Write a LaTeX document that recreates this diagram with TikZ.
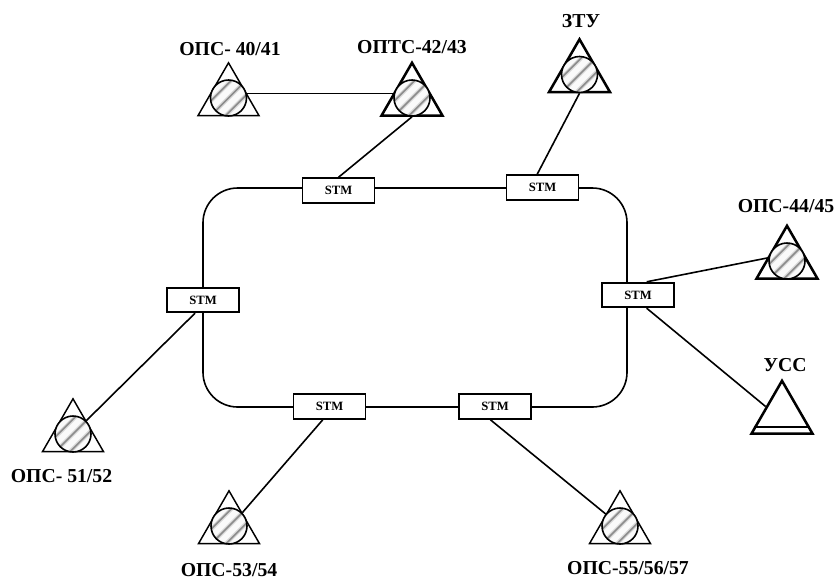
\documentclass[tikz,border=0pt]{standalone}
\usepackage{fontspec}
\setmainfont{Liberation Serif}
\usepackage{tikz}
\usetikzlibrary{shapes.geometric, calc}

\begin{document}
\begin{tikzpicture}[
  x=0.75pt, y=-0.75pt,
  tri/.style={regular polygon, regular polygon sides=3, draw=black, line width=1.1pt, inner sep=0pt,
              minimum size=52.8pt},
  trib/.style={tri, line width=1.9pt},
  disc/.style={circle, draw=black, line width=1.2pt, fill=gray!4, inner sep=0pt, minimum size=27pt,
               path picture={
                 \foreach \off in {-5.5,0,5.5} {
                   \draw[gray!30, line width=3pt]
                     ($(path picture bounding box.center)+(-15pt+\off pt,-15pt-\off pt)$) --
                     ($(path picture bounding box.center)+(15pt+\off pt,15pt-\off pt)$);
                   \draw[gray!90, line width=1.2pt]
                     ($(path picture bounding box.center)+(-15pt+\off pt,-15pt-\off pt)$) --
                     ($(path picture bounding box.center)+(15pt+\off pt,15pt-\off pt)$);
                 }
               }},
  stm/.style={rectangle, draw=black, line width=1.3pt, fill=white, inner sep=0pt,
              minimum width=54pt, minimum height=18.5pt, font=\fontsize{9.5}{10}\selectfont\bfseries},
  lbl/.style={font=\fontsize{14.8}{16}\selectfont\bfseries, inner sep=0pt},
  link/.style={draw=black, line width=1.2pt},
]
\useasboundingbox (0,0) rectangle (838,579);

% Ring
\draw[link, rounded corners=26pt] (203,188) rectangle (627,407);

% STM boxes
\node[stm] (s1) at (338.5,190.5) {STM};
\node[stm] (s2) at (542.5,187.5) {STM};
\node[stm] (s3) at (638,295) {STM};
\node[stm] (s4) at (203,300) {STM};
\node[stm] (s5) at (329.5,406.5) {STM};
\node[stm] (s6) at (495,406.5) {STM};

% Stations
\node[tri] (t40) at (228.5,98) {};
\node[disc] (d40) at (t40) {};
\node[lbl] at (230,49) {ОПС- 40/41};

\node[trib] (t42) at (412,98) {};
\node[disc] (d42) at (t42) {};
\node[lbl] at (412,47) {ОПТС-42/43};

\node[trib] (t58) at (579.5,74.5) {};
\node[disc] (d58) at (t58) {};
\node[lbl] at (581,21) {ЗТУ};

\node[trib] (t44) at (787,261) {};
\node[disc] (d44) at (t44) {};
\node[lbl] at (786,206) {ОПС-44/45};

\node[trib] (t60) at (782,416) {};
\node[lbl] at (785,365) {УСС};

\node[tri] (t51) at (73,434) {};
\node[disc] (d51) at (t51) {};
\node[lbl] at (61.5,476) {ОПС- 51/52};

\node[tri] (t53) at (229,526) {};
\node[disc] (d53) at (t53) {};
\node[lbl] at (229,570) {ОПС-53/54};

\node[tri] (t55) at (620,526) {};
\node[disc] (d55) at (t55) {};
\node[lbl] at (628,568) {ОПС-55/56/57};

% Connectors
\draw[link, line width=0.7pt] (d40.13) -- (d42.167);
\draw[link] (d42.south) -- (s1.north);
\draw[link] (d58.south) -- ([xshift=-4pt]s2.north);
\draw[link] (d44.170) -- ([xshift=6.5pt]s3.north);
\draw[link] (t60.side 1) -- ([xshift=6.5pt]s3.south);
\draw[link] (d51.45) -- ([xshift=-6pt]s4.south);
\draw[link] (d53.45) -- ([xshift=-5pt]s5.south);
\draw[link] (d55.140) -- ([xshift=-3.5pt]s6.south);

% Inner bar of the terminal
\draw[link] ($(t60.corner 2)!0.135!(t60.corner 1)$) -- ($(t60.corner 3)!0.135!(t60.corner 1)$);
\end{tikzpicture}
\end{document}
